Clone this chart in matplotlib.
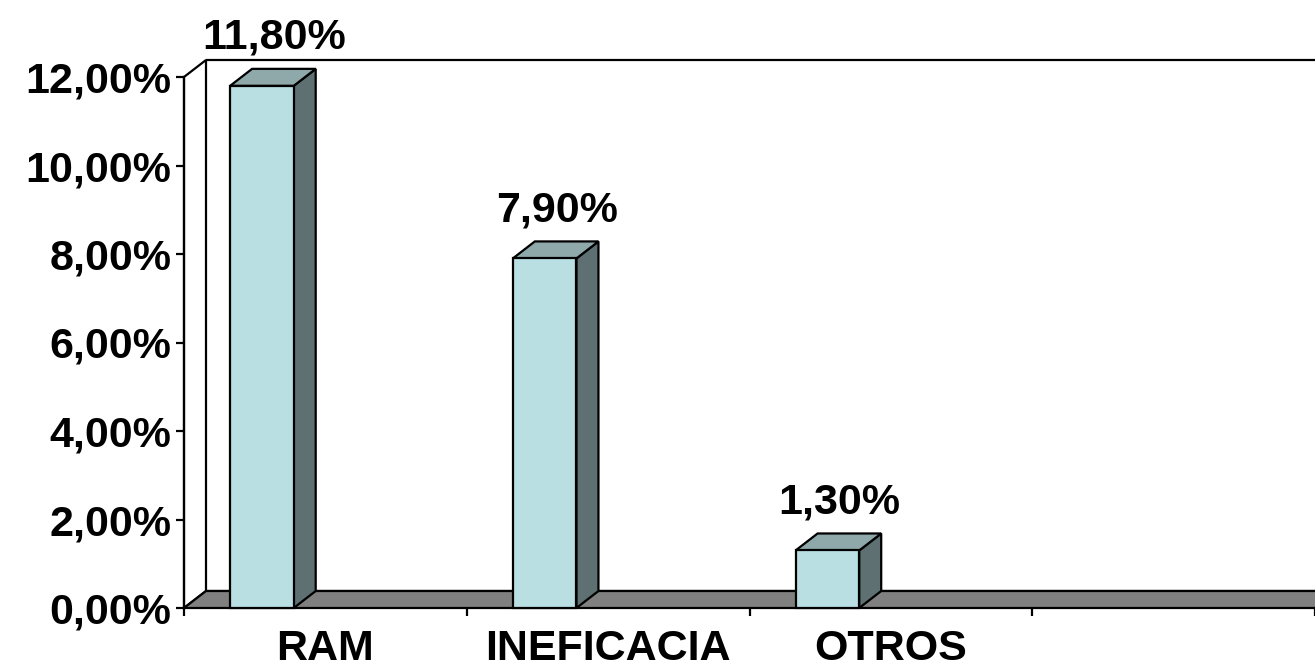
import matplotlib.pyplot as plt
from matplotlib.patches import Polygon
from matplotlib.ticker import FuncFormatter, FixedLocator

plt.rcParams['font.family'] = ['Liberation Sans', 'DejaVu Sans']

categories = ['RAM', 'INEFICACIA', 'OTROS', '']
values = [11.80, 7.90, 1.30]
y_ticks = [0, 2, 4, 6, 8, 10, 12]

FRONT = '#b9dfe3'
TOP = '#8fa9ab'
SIDE = '#5e7072'
FLOOR = '#808080'
LW = 1.6
FS = 31

fig = plt.figure(figsize=(13.15, 6.70), dpi=100)
ax = fig.add_axes([184 / 1315, 62 / 670, 1131 / 1315, 531 / 670])
ax.set_xlim(0, len(categories))
ax.set_ylim(0, 12)

# depth of the 3-D box, 22 px right and 17 px up, in data units
bb = ax.get_window_extent()
dx = 22 * len(categories) / bb.width
dy = 17 * 12 / bb.height

for s in ax.spines.values():
    s.set_visible(False)

n = len(categories)
# back wall, side wall and floor
ax.add_patch(Polygon([(dx, dy), (n + dx, dy), (n + dx, 12 + dy), (dx, 12 + dy)],
                     closed=False, facecolor='white', edgecolor='black', lw=LW,
                     clip_on=False, zorder=1))
ax.add_patch(Polygon([(0, 0), (dx, dy), (dx, 12 + dy), (0, 12)],
                     facecolor='white', edgecolor='black', lw=LW, clip_on=False, zorder=1))
ax.add_patch(Polygon([(0, 0), (n, 0), (n + dx, dy), (dx, dy)],
                     facecolor=FLOOR, edgecolor='black', lw=LW, clip_on=False, zorder=2))
ax.plot([0, 0], [0, 12], color='black', lw=LW, clip_on=False, zorder=2)

# bars as boxes: side, top, front
off, w = 0.163, 0.225
for i, v in enumerate(values):
    x0, x1 = i + off, i + off + w
    ax.add_patch(Polygon([(x1, 0), (x1 + dx, dy), (x1 + dx, v + dy), (x1, v)],
                         facecolor=SIDE, edgecolor='black', lw=LW, zorder=3,
                         clip_on=False))
    ax.add_patch(Polygon([(x0, v), (x1, v), (x1 + dx, v + dy), (x0 + dx, v + dy)],
                         facecolor=TOP, edgecolor='black', lw=LW, zorder=3,
                         clip_on=False))
    ax.add_patch(Polygon([(x0, 0), (x1, 0), (x1, v), (x0, v)],
                         facecolor=FRONT, edgecolor='black', lw=LW, zorder=4,
                         clip_on=False))
    ax.annotate(f'{v:.2f}%'.replace('.', ','), xy=((x0 + x1) / 2, v),
                xytext=(12, 28), textcoords='offset pixels',
                ha='center', va='bottom', fontsize=FS, fontweight='bold',
                annotation_clip=False)

ax.yaxis.set_major_locator(FixedLocator(y_ticks))
ax.yaxis.set_major_formatter(FuncFormatter(lambda v, p: f'{v:.2f}%'.replace('.', ',')))
ax.tick_params(axis='y', direction='out', length=6, width=LW, pad=3,
               labelsize=FS)
for t in ax.get_yticklabels():
    t.set_fontweight('bold')

ax.xaxis.set_major_locator(FixedLocator(range(n + 1)))
ax.set_xticks([i + 0.5 for i in range(n)], categories, minor=True)
ax.tick_params(axis='x', which='major', direction='out', length=6, width=LW,
               labelbottom=False)
ax.tick_params(axis='x', which='minor', length=0, pad=15, labelsize=FS)
for t in ax.get_xticklabels(minor=True):
    t.set_fontweight('bold')

ax.patch.set_visible(False)
fig.savefig('out.png', dpi=100)
